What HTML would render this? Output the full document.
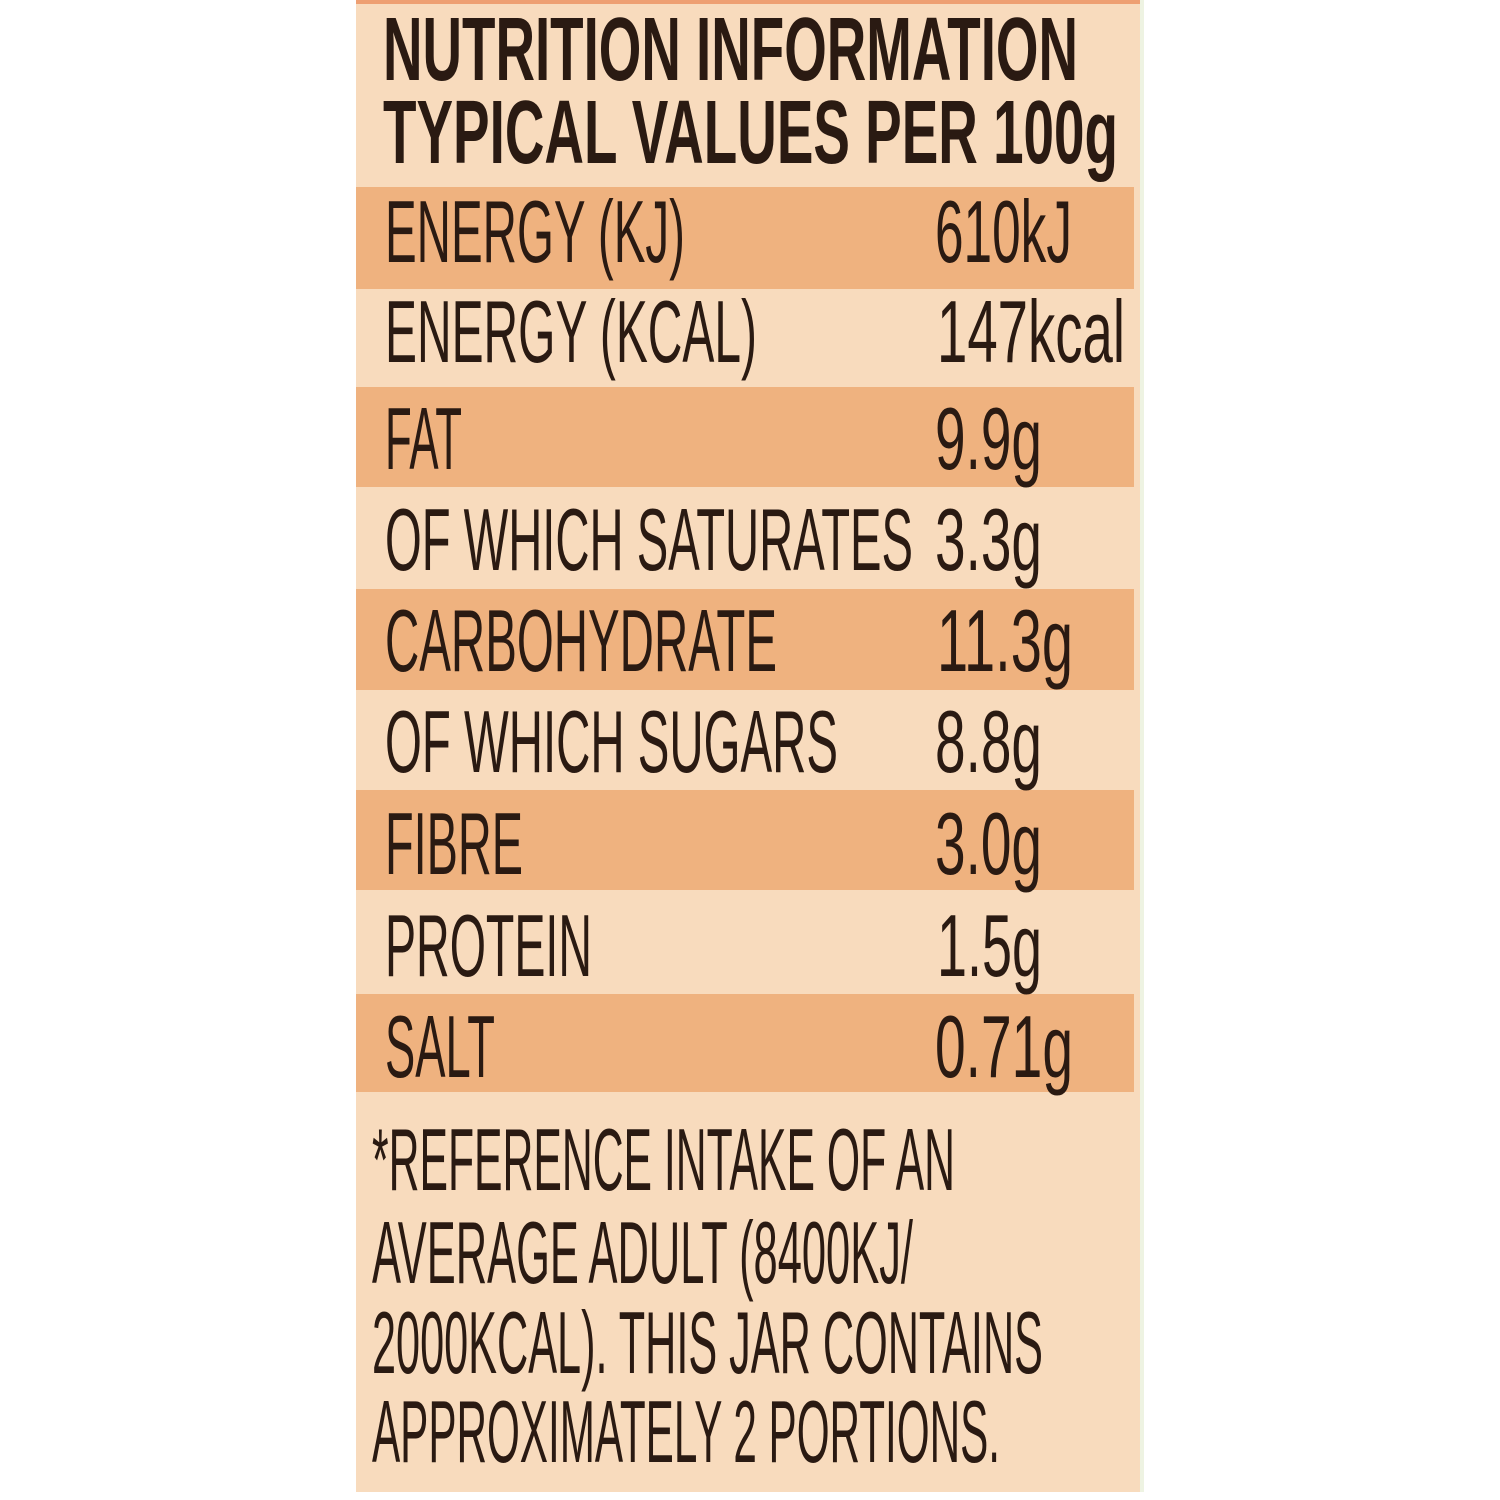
<!DOCTYPE html>
<html><head><style>html,body{margin:0;padding:0;background:#fff}</style></head>
<body>
<svg width="1500" height="1500" xmlns="http://www.w3.org/2000/svg" style="display:block">
<rect x="0" y="0" width="1500" height="1500" fill="#ffffff"/>
<rect x="356" y="0" width="786" height="1492" fill="#f8dbbd"/>
<rect x="356" y="0" width="786" height="4" fill="#ee9f72"/>
<rect x="1140" y="0" width="4" height="1492" fill="#eef3e2"/>
<g fill="#efb27f">
<rect x="356" y="187" width="778" height="102"/>
<rect x="356" y="387" width="778" height="100"/>
<rect x="356" y="589" width="778" height="101"/>
<rect x="356" y="790" width="778" height="100"/>
<rect x="356" y="994" width="778" height="98"/>
</g>
<g fill="#2a1a12" font-family="Liberation Sans, sans-serif">
<g font-weight="bold" font-size="90">
<text x="383" y="80" textLength="695" lengthAdjust="spacingAndGlyphs">NUTRITION INFORMATION</text>
<text x="383" y="163" textLength="735" lengthAdjust="spacingAndGlyphs">TYPICAL VALUES PER 100g</text>
</g>
<g font-size="88">
<text x="385" y="262" textLength="300" lengthAdjust="spacingAndGlyphs">ENERGY (KJ)</text>
<text x="935" y="262" textLength="137" lengthAdjust="spacingAndGlyphs">610kJ</text>
<text x="385" y="362" textLength="372" lengthAdjust="spacingAndGlyphs">ENERGY (KCAL)</text>
<text x="937" y="362" textLength="188" lengthAdjust="spacingAndGlyphs">147kcal</text>
<text x="385" y="469" textLength="77" lengthAdjust="spacingAndGlyphs">FAT</text>
<text x="935" y="469" textLength="107" lengthAdjust="spacingAndGlyphs">9.9g</text>
<text x="385" y="570" textLength="528" lengthAdjust="spacingAndGlyphs">OF WHICH SATURATES</text>
<text x="935" y="570" textLength="107" lengthAdjust="spacingAndGlyphs">3.3g</text>
<text x="385" y="671" textLength="392" lengthAdjust="spacingAndGlyphs">CARBOHYDRATE</text>
<text x="937" y="671" textLength="136" lengthAdjust="spacingAndGlyphs">11.3g</text>
<text x="385" y="772" textLength="453" lengthAdjust="spacingAndGlyphs">OF WHICH SUGARS</text>
<text x="935" y="772" textLength="107" lengthAdjust="spacingAndGlyphs">8.8g</text>
<text x="385" y="874" textLength="138" lengthAdjust="spacingAndGlyphs">FIBRE</text>
<text x="935" y="874" textLength="107" lengthAdjust="spacingAndGlyphs">3.0g</text>
<text x="385" y="976" textLength="207" lengthAdjust="spacingAndGlyphs">PROTEIN</text>
<text x="937" y="976" textLength="105" lengthAdjust="spacingAndGlyphs">1.5g</text>
<text x="385" y="1077" textLength="110" lengthAdjust="spacingAndGlyphs">SALT</text>
<text x="935" y="1077" textLength="138" lengthAdjust="spacingAndGlyphs">0.71g</text>
<text x="372" y="1190" textLength="583" lengthAdjust="spacingAndGlyphs">*REFERENCE INTAKE OF AN</text>
<text x="372" y="1283" textLength="541" lengthAdjust="spacingAndGlyphs">AVERAGE ADULT (8400KJ/</text>
<text x="372" y="1373" textLength="671" lengthAdjust="spacingAndGlyphs">2000KCAL). THIS JAR CONTAINS</text>
<text x="372" y="1462" textLength="628" lengthAdjust="spacingAndGlyphs">APPROXIMATELY 2 PORTIONS.</text>
</g>
</g>
</svg>
</body></html>
